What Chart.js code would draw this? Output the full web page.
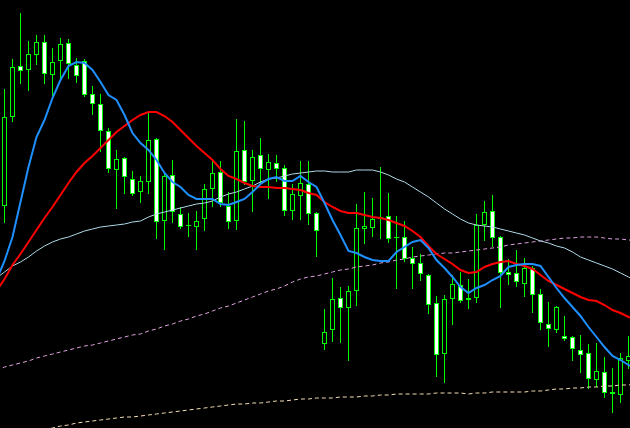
<!DOCTYPE html>
<html>
<head>
<meta charset="utf-8">
<script src="https://cdn.jsdelivr.net/npm/chart.js@4/dist/chart.umd.min.js"></script>
<style>
html,body{margin:0;padding:0;background:#000;overflow:hidden;}
#wrap{width:630px;height:428px;background:#000;}
canvas{display:block;}
</style>
</head>
<body>
<div id="wrap"><canvas id="c" width="630" height="428"></canvas></div>
<script>
// Price values in chart units (scale runs top = 0 to bottom = 428).
const opens = [206,117,66,70,55,42,75,61,43,65, 61,94,104,131,170,158,179,192,182,139,
  221,175,214,225,227,219,189,172,206,221, 150,181,155,170,163,168,211,196,184,213,
  344,330,298,308,291,229,228,219,216,237, 237,258,263,275,303,354,299,285,300,298,
  225,211,237,272,273,284,268,294,324,330, 336,337,350,353,380,372,392,395,361];
const highs = [89,59,13,41,35,35,48,38,39,58, 59,86,94,128,150,157,171,176,113,138,
  172,160,207,213,211,184,161,161,192,119, 121,150,138,154,155,165,184,161,161,212,
  309,278,287,286,204,192,198,167,193,216, 221,247,254,274,296,295,275,272,279,214,
  201,195,236,259,250,258,266,289,302,306, 316,336,335,344,343,357,368,353,336];
const lows = [223,122,84,91,65,84,96,80,79,83, 97,115,152,173,209,194,196,203,194,239,
  250,223,229,237,250,231,207,207,229,230, 185,212,183,199,182,216,220,220,225,257,
  350,342,343,361,306,244,237,239,243,289, 262,289,281,314,377,383,325,303,309,303,
  241,247,308,285,287,297,313,330,347,333, 341,361,373,389,387,398,413,403,369];
const closes = [117,67,71,54,42,74,62,44,64,76, 95,104,131,169,159,177,194,181,140,222,
  176,212,227,226,221,189,173,203,222,151, 182,157,169,162,169,211,194,183,214,231,
  332,299,308,291,228,226,219,217,239,238, 259,264,274,305,355,299,284,301,298,225,
  212,238,273,275,282,268,295,323,329,307, 339,349,355,379,371,393,394,358,356];

// Moving averages: value at the bar before the first visible bar, each visible bar, and the bar after.
const maFast = [280, 261,237,202,167,137,120,98,80,66,62, 63,70,82,95,100,115,133,143,150,160,
  173,182,187,195,199,199,199,204,205,202, 199,192,184,179,177,181,181,176,182,187,
  203,220,235,251,253,257,260,261,261,252, 247,242,240,248,260,268,277,287,293,288,
  285,280,276,267,265,264,264,266,277,288, 298,307,316,327,337,347,356,360,365, 369];
const maMid = [291, 279,265,254,242,230,218,207,195,183,172, 163,156,148,140,132,126,120,115,112,112,
  116,122,130,138,146,153,160,169,176,179, 183,186,187,187,188,188,189,190,193,195,
  202,207,211,213,213,215,217,218,220,223, 226,231,237,246,254,259,264,270,273,272,
  267,264,262,261,264,266,269,275,281,285, 289,293,297,300,301,305,310,313,317, 319];
const maSlow = [278, 272,266,262,257,251,246,242,239,237,234, 231,229,227,226,225,224,222,221,217,214,
  212,210,208,206,204,203,201,197,194,192, 189,186,182,179,178,176,174,173,172,171,
  171,172,172,172,170,170,170,172,175,179, 182,187,192,197,203,209,214,219,223,225,
  226,227,229,231,233,235,238,241,243,246, 248,252,257,260,263,266,269,273,277, 281];
const maLong = [371, 367,365,363,361,358,356,354,352,350,348, 346,345,343,341,339,337,335,334,331,329,
  326,324,321,319,316,314,311,308,306,303, 300,297,294,291,289,286,282,279,277,276,
  274,272,270,269,267,266,265,263,262,260, 259,257,256,255,254,253,253,252,251,250,
  249,248,247,245,244,243,242,241,240,239, 238,238,237,237,237,238,239,239,240, 240];
const maVeryLong = [441, 439,437,435,433,431,430,428,426,425,423, 422,421,420,419,418,417,417,416,415,414,
  413,412,411,410,409,408,407,406,405,404, 404,403,403,402,401,401,400,399,399,398,
  398,398,397,397,397,396,396,395,395,394, 394,394,394,394,393,393,393,393,394,393,
  393,392,392,392,392,392,391,391,390,389, 389,388,388,387,387,386,386,385,385, 384];

const bars = opens.map((_, i) => i);
const wickData = bars.map(i => ({x: i, y: [lows[i], highs[i]]}));
const bodyData = bars.map(i => ({x: i, y: [opens[i], closes[i] === opens[i] ? opens[i] + 1 : closes[i]]}));
const bodyFill = bars.map(i => closes[i] > opens[i] ? '#ffffff' : '#000000');
const maPoints = arr => arr.map((v, k) => ({x: k - 1, y: v}));

const lineDs = (label, arr, color, width, dash, order) => ({
  type: 'line', label, data: maPoints(arr), borderColor: color, borderWidth: width,
  borderDash: dash, pointRadius: 0, tension: 0, fill: false, order
});

new Chart(document.getElementById('c'), {
  type: 'bar',
  data: {
    datasets: [
      lineDs('MA fast', maFast, '#1e90ff', 2, [], 0),
      lineDs('MA mid', maMid, '#ff0000', 2, [], 1),
      lineDs('MA slow', maSlow, '#add8e6', 1, [], 2),
      lineDs('MA long', maLong, '#dda0dd', 1, [4, 3], 3),
      lineDs('MA very long', maVeryLong, '#f5deb3', 1, [4, 3], 4),
      {
        type: 'bar', label: 'body', data: bodyData, backgroundColor: bodyFill,
        borderColor: '#00ff00', borderWidth: 1, borderSkipped: false, inflateAmount: 0,
        barThickness: 5, grouped: false, order: 5
      },
      {
        type: 'bar', label: 'wick', data: wickData, backgroundColor: '#00ff00',
        borderWidth: 0, inflateAmount: 0, barThickness: 1, grouped: false, order: 6
      }
    ]
  },
  options: {
    responsive: false,
    animation: false,
    devicePixelRatio: 1,
    layout: {padding: 0},
    plugins: {legend: {display: false}, tooltip: {enabled: false}},
    scales: {
      x: {type: 'linear', display: false, offset: false, min: -0.5625, max: 78.1875,
          grid: {display: false}},
      y: {type: 'linear', display: false, reverse: true, min: 0, max: 428,
          grid: {display: false}}
    }
  }
});
</script>
</body>
</html>
